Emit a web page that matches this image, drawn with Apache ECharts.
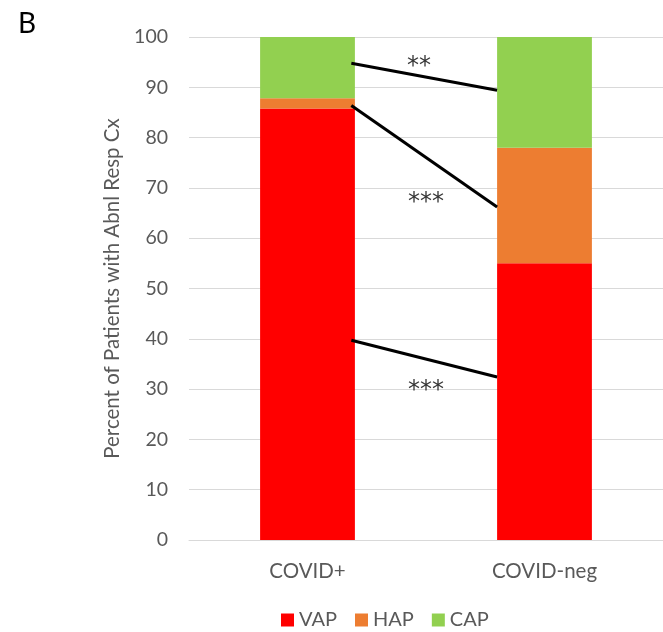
<!DOCTYPE html>
<html><head><meta charset="utf-8">
<script src="https://cdn.jsdelivr.net/npm/echarts@6/dist/echarts.min.js"></script>
<style>html,body{margin:0;padding:0;background:#fff}#c{width:663px;height:632px}</style>
</head><body><div id="c"></div>
<script>
const categories = ['COVID+', 'COVID-neg'];
const vap = [85.8, 55.0];
const hap = [2.0, 23.0];
const cap = [12.2, 22.0];
const yTicks = { min: 0, max: 100, interval: 10 };
// significance connectors: [value at COVID+ side, value at COVID-neg side]
const sigLines = [[94.8, 89.4], [86.4, 66.2], [39.7, 32.4]];
const sigLabels = ['**', '***', '***'];
const sigLabelY = [94.0, 67.0, 29.6];
const sigLabelX = [0.97, 1.0, 1.0];

const FONT = 'Lato';
const BAR = 0.4;
const chart = echarts.init(document.getElementById('c'));
chart.setOption({
  animation: false,
  textStyle: { fontFamily: FONT },
  graphic: [{ type: 'text', left: 18, top: 10, style: { text: 'B', font: '28px ' + FONT, fill: '#000' } }],
  grid: { left: 189, top: 37, width: 476, bottom: 92 },
  legend: {
    data: ['VAP', 'HAP', 'CAP'], top: 605, left: 276,
    icon: 'rect', itemWidth: 13, itemHeight: 13, itemGap: 18,
    textStyle: { fontSize: 20, color: '#595959', fontFamily: FONT }
  },
  xAxis: [{
    type: 'category', data: categories,
    axisLine: { lineStyle: { color: '#d9d9d9' } }, axisTick: { show: false },
    axisLabel: { fontSize: 20.5, color: '#595959', margin: 21 }
  }, {
    type: 'value', min: 0, max: 2, show: false
  }],
  yAxis: {
    type: 'value', min: yTicks.min, max: yTicks.max, interval: yTicks.interval,
    name: 'Percent of Patients with Abnl Resp Cx', nameLocation: 'middle', nameGap: 60,
    nameTextStyle: { fontSize: 20.5, color: '#595959' },
    axisLine: { show: false }, axisTick: { show: false },
    splitLine: { lineStyle: { color: '#d9d9d9', width: 1 } },
    axisLabel: { fontSize: 19.5, color: '#595959', margin: 21 }
  },
  series: [
    { name: 'VAP', type: 'bar', stack: 't', barWidth: '40%', data: vap, itemStyle: { color: '#ff0000' } },
    { name: 'HAP', type: 'bar', stack: 't', data: hap, itemStyle: { color: '#ed7d31' } },
    { name: 'CAP', type: 'bar', stack: 't', data: cap, itemStyle: { color: '#92d050' } },
    { name: 'sig', type: 'lines', coordinateSystem: 'cartesian2d', xAxisIndex: 1, yAxisIndex: 0,
      lineStyle: { color: '#000', width: 3, opacity: 1 }, z: 5,
      data: sigLines.map(s => ({ coords: [[0.5 + BAR/2 - 0.015, s[0]], [1.5 - BAR/2, s[1]]] })) },
    { name: 'stars', type: 'scatter', xAxisIndex: 1, symbolSize: 0, z: 6,
      data: sigLabels.map((t, i) => ({ value: [sigLabelX[i], sigLabelY[i]], name: t })),
      label: { show: true, position: 'inside', formatter: p => p.name, fontSize: 24, color: '#000', fontFamily: 'DejaVu Sans' } }
  ]
});
</script></body></html>
